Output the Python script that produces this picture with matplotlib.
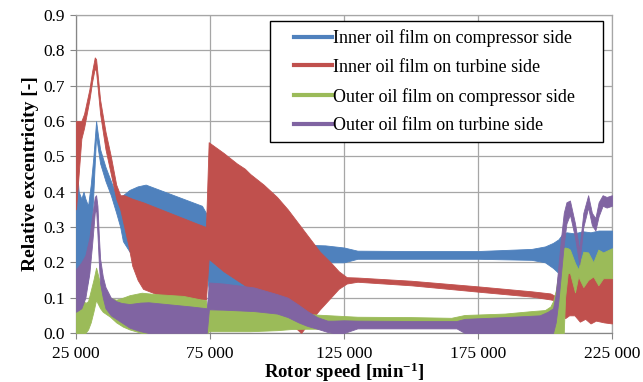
import matplotlib
matplotlib.use('Agg')
import matplotlib.pyplot as plt
from matplotlib.lines import Line2D
from matplotlib.patches import Rectangle

plt.rcParams['font.family'] = 'Liberation Serif'
plt.rcParams['mathtext.fontset'] = 'custom'
plt.rcParams['mathtext.rm'] = 'Liberation Serif:bold'
plt.rcParams['mathtext.bf'] = 'Liberation Serif:bold'
plt.rcParams['mathtext.default'] = 'bf'

# band envelopes (lower / upper), rotor speed in min^-1

# inner oil film, compressor side
speed_blue = [25000, 25500, 26000, 27000, 27800, 28500, 29500, 30500, 31500, 32500, 33200,
              34000, 36000, 38000, 40000, 41500, 42500, 45000, 48000, 51000, 58000, 65000,
              72000, 73500, 74600, 80000, 88000, 100000, 110000, 118000, 125000, 130000,
              150000, 175000, 195000, 200000, 203000, 205000, 206500, 208000, 211000,
              214000, 217000, 220000, 225000]
blue_hi = [0.38, 0.45, 0.40, 0.38, 0.40, 0.38, 0.36, 0.42, 0.50, 0.60, 0.56,
           0.52, 0.47, 0.43, 0.39, 0.385, 0.39, 0.405, 0.415, 0.42, 0.40, 0.38,
           0.36, 0.34, 0.25, 0.25, 0.25, 0.25, 0.25, 0.248, 0.242, 0.233,
           0.232, 0.232, 0.238, 0.245, 0.255, 0.265, 0.28, 0.285, 0.282,
           0.288, 0.285, 0.29, 0.29]
blue_lo = [0.20, 0.10, 0.15, 0.12, 0.10, 0.12, 0.15, 0.25, 0.40, 0.56, 0.52,
           0.48, 0.43, 0.39, 0.34, 0.30, 0.26, 0.23, 0.22, 0.22, 0.22, 0.22,
           0.22, 0.18, 0.12, 0.12, 0.12, 0.14, 0.19, 0.20, 0.20, 0.21,
           0.21, 0.21, 0.207, 0.20, 0.184, 0.17, 0.17, 0.17, 0.17,
           0.17, 0.17, 0.17, 0.17]

# inner oil film, turbine side
speed_red = [25000, 26000, 27000, 28000, 30000, 31000, 32000, 32500, 34000, 36000, 38000,
             40000, 41500, 43000, 44500, 46000, 48000, 50000, 55000, 60000, 65000, 70000,
             73500, 74500, 80000, 85000, 88000, 90000, 95000, 100000, 104000, 109000,
             112000, 116000, 120000, 123000, 126000, 130000, 150000, 175000, 195000,
             202000, 205000, 206500, 207500, 209000, 211000, 213000, 215000, 217000,
             219000, 222000, 225000]
red_hi = [0.60, 0.60, 0.60, 0.62, 0.69, 0.74, 0.78, 0.775, 0.66, 0.57, 0.50,
          0.42, 0.39, 0.39, 0.385, 0.38, 0.375, 0.37, 0.355, 0.34, 0.325, 0.31,
          0.30, 0.54, 0.51, 0.48, 0.465, 0.45, 0.42, 0.385, 0.35, 0.30,
          0.27, 0.23, 0.20, 0.175, 0.158, 0.157, 0.148, 0.132, 0.118,
          0.112, 0.10, 0.12, 0.17, 0.18, 0.18, 0.17, 0.18, 0.18,
          0.18, 0.18, 0.18]
red_lo = [0.35, 0.45, 0.55, 0.58, 0.66, 0.71, 0.75, 0.74, 0.62, 0.52, 0.45,
          0.38, 0.35, 0.30, 0.25, 0.19, 0.15, 0.125, 0.11, 0.105, 0.10, 0.095,
          0.095, 0.21, 0.175, 0.15, 0.135, 0.12, 0.09, 0.06, 0.035, 0.0,
          0.03, 0.067, 0.10, 0.125, 0.14, 0.145, 0.135, 0.117, 0.103,
          0.095, 0.09, 0.06, 0.042, 0.05, 0.05, 0.032, 0.04, 0.027,
          0.035, 0.03, 0.027]

# outer oil film, compressor side
speed_green = [25000, 27000, 28500, 29500, 30500, 31500, 32500, 33000, 34000, 35000, 37700,
               40000, 42500, 45000, 49500, 55000, 65000, 71500, 73500, 74000, 74600, 80000,
               90000, 100000, 105000, 110000, 115000, 120000, 130000, 150000, 165000,
               170000, 185000, 195000, 200000, 202000, 203000, 204000, 205000, 206200,
               207000, 207500, 208500, 209300, 211200, 212400, 214300, 216100, 218000,
               219900, 221700, 225000]
green_hi = [0.095, 0.10, 0.085, 0.09, 0.12, 0.15, 0.185, 0.17, 0.14, 0.12, 0.10,
            0.094, 0.10, 0.107, 0.114, 0.11, 0.105, 0.095, 0.093, 0.065, 0.067, 0.067,
            0.066, 0.062, 0.058, 0.055, 0.052, 0.05, 0.046, 0.045, 0.043,
            0.051, 0.055, 0.062, 0.065, 0.075, 0.09, 0.12, 0.17, 0.226,
            0.24, 0.242, 0.24, 0.236, 0.198, 0.18, 0.23, 0.228, 0.20,
            0.236, 0.228, 0.24]
green_lo = [0.0, 0.0, 0.0, 0.01, 0.03, 0.06, 0.094, 0.085, 0.07, 0.06, 0.046,
            0.03, 0.018, 0.01, 0.0, 0.0, 0.0, 0.0, 0.0, 0.0, 0.005, 0.005,
            0.005, 0.008, 0.011, 0.012, 0.012, 0.02, 0.02, 0.02, 0.02,
            0.02, 0.02, 0.02, 0.02, 0.0, 0.0, 0.0, 0.0, 0.0,
            0.0, 0.1, 0.17, 0.17, 0.115, 0.16, 0.13, 0.15, 0.16,
            0.135, 0.155, 0.155]

# outer oil film, turbine side
speed_purple = [25000, 27000, 28500, 30000, 31000, 32000, 32500, 33000, 33500, 34000, 35000,
                36000, 38000, 40000, 42000, 45000, 49000, 52000, 60000, 68000, 73800, 74600,
                80000, 91400, 100000, 104000, 108000, 111300, 115000, 118800, 121000, 125000,
                130000, 150000, 167000, 170000, 185000, 198000, 201000, 203000, 204000,
                205000, 206000, 207000, 208000, 209300, 211200, 212800, 214300, 216100,
                217500, 218800, 220000, 221500, 223000, 225000]
purple_hi = [0.18, 0.20, 0.22, 0.27, 0.33, 0.385, 0.39, 0.36, 0.28, 0.21, 0.16,
             0.13, 0.10, 0.09, 0.085, 0.082, 0.086, 0.087, 0.081, 0.075, 0.07, 0.143,
             0.14, 0.129, 0.11, 0.10, 0.08, 0.062, 0.045, 0.035, 0.035, 0.036,
             0.035, 0.034, 0.034, 0.04, 0.045, 0.05, 0.06, 0.07, 0.11,
             0.19, 0.27, 0.34, 0.37, 0.375, 0.31, 0.235, 0.34, 0.39,
             0.34, 0.325, 0.37, 0.39, 0.385, 0.39]
purple_lo = [0.06, 0.07, 0.10, 0.17, 0.25, 0.34, 0.35, 0.28, 0.20, 0.14, 0.10,
             0.07, 0.05, 0.04, 0.03, 0.015, 0.005, 0.0, 0.0, 0.0, 0.0, 0.067,
             0.066, 0.062, 0.055, 0.045, 0.03, 0.02, 0.012, 0.003, 0.0, 0.0,
             0.013, 0.013, 0.013, 0.0, 0.0, 0.0, 0.0, 0.0, 0.03,
             0.09, 0.17, 0.25, 0.31, 0.335, 0.27, 0.195, 0.30, 0.355,
             0.305, 0.29, 0.33, 0.36, 0.355, 0.36]

labels = ['Inner oil film on compressor side', 'Inner oil film on turbine side',
          'Outer oil film on compressor side', 'Outer oil film on turbine side']
colors = ['#4F81BD', '#C0504D', '#9BBB59', '#8064A2']

xticks = [25000, 75000, 125000, 175000, 225000]
xtick_labels = ['25 000', '75 000', '125 000', '175 000', '225 000']

W, H = 643, 382
fig = plt.figure(figsize=(W / 100, H / 100), dpi=100)
ax = fig.add_axes([76 / W, 1 - 333 / H, 536 / W, 318 / H])

bands = [(speed_blue, blue_lo, blue_hi),
         (speed_red, red_lo, red_hi),
         (speed_green, green_lo, green_hi),
         (speed_purple, purple_lo, purple_hi)]
for (xs, lo, hi), c in zip(bands, colors):
    ax.fill_between(xs, lo, hi, color=c, linewidth=0.6, edgecolor=c, zorder=3)

ax.set_xlim(25000, 225000)
ax.set_ylim(0, 0.9)
ax.set_xticks(xticks)
ax.set_xticklabels(xtick_labels)
ax.set_yticks([i / 10 for i in range(10)])
ax.set_yticklabels(['%.1f' % (i / 10) for i in range(10)])
ax.tick_params(labelsize=12.5, color='#868686', length=4, width=0.8)
ax.tick_params(axis='x', pad=5)
ax.tick_params(axis='y', pad=4)
ax.grid(True, color='#A6A6A6', linewidth=0.9, zorder=0)
ax.set_axisbelow(True)
for s in ax.spines.values():
    s.set_color('#A6A6A6')
    s.set_linewidth(0.9)
ax.spines['left'].set_color('#868686')
ax.spines['bottom'].set_color('#868686')

ax.set_xlabel('Rotor speed [min$^{-1}$]', fontsize=13.5, fontweight='bold', labelpad=-1)
ax.set_ylabel('Relative excentricity [-]', fontsize=14, fontweight='bold', labelpad=3)

# legend box (Excel style, wider padding left/right than top/bottom)
frame = Rectangle((270 / W, 1 - 142 / H), 333 / W, 121 / H, transform=fig.transFigure,
                  facecolor='white', edgecolor='black', linewidth=1.0, zorder=4)
fig.patches.append(frame)

handles = [Line2D([], [], color=c, linewidth=3) for c in colors]
leg = fig.legend(handles, labels, loc='upper left',
                 bbox_to_anchor=(294 / W, 1 - 29 / H), bbox_transform=fig.transFigure,
                 fontsize=13, frameon=False, handlelength=2.1, handletextpad=0.05,
                 labelspacing=0.66, borderpad=0, borderaxespad=0)
leg.set_zorder(5)

fig.savefig('out.png', dpi=100)
